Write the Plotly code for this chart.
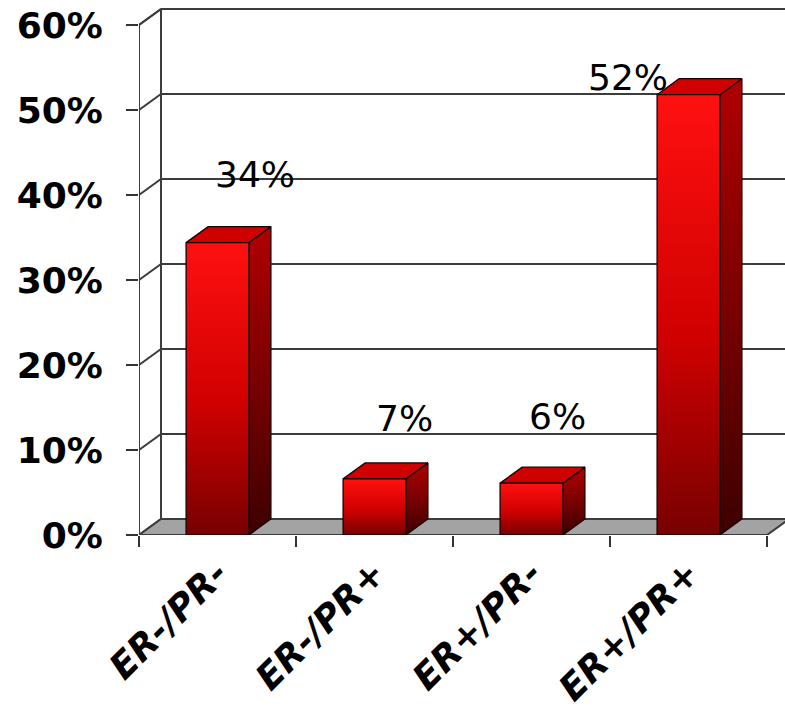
import plotly.graph_objects as go

# ---------------- data ----------------
categories = ["ER-/PR-", "ER-/PR+", "ER+/PR-", "ER+/PR+"]
values = [34.4, 6.6, 6.1, 51.8]          # percent
data_labels = ["34%", "7%", "6%", "52%"]
y_ticks = [0, 10, 20, 30, 40, 50, 60]
y_tick_labels = ["0%", "10%", "20%", "30%", "40%", "50%", "60%"]

# ---------------- style / geometry ----------------
W, H = 785, 708
M_L, M_R, M_T, M_B = 139, 0, 0, 173
PX_X = 157.0            # pixels per category
PX_Y = 8.5              # pixels per percent
DX = 22 / PX_X          # depth offset (x, in category units)
DY = 16 / PX_Y          # depth offset (y, in percent units)
HALF = 0.2              # half bar width in category units
X_MIN = -0.5
X_MAX = X_MIN + (W - M_L - M_R) / PX_X
Y_MAX = (H - M_B - M_T) / PX_Y
N = len(categories)
X_END = N - 0.5

GRID = "#3c3c3c"
EDGE = "#1a0000"
label_shift_px = [(37, 68), (30, 60), (26, 67), (-61, 17)]

fig = go.Figure()


def poly(xs, ys, fillcolor=None, line_color=GRID, line_width=2, gradient=None):
    kw = dict(x=xs + [xs[0]], y=ys + [ys[0]], mode="lines",
              line=dict(color=line_color, width=line_width),
              hoverinfo="skip", showlegend=False, cliponaxis=False)
    if fillcolor is not None or gradient is not None:
        kw["fill"] = "toself"
        if fillcolor is not None:
            kw["fillcolor"] = fillcolor
        if gradient is not None:
            kw["fillgradient"] = gradient
    fig.add_trace(go.Scatter(**kw))


def seg(xs, ys, color=GRID, width=2):
    fig.add_trace(go.Scatter(x=xs, y=ys, mode="lines",
                             line=dict(color=color, width=width),
                             hoverinfo="skip", showlegend=False, cliponaxis=False))


top = y_ticks[-1]
# left wall (white) and back wall
poly([X_MIN, X_MIN + DX, X_MIN + DX, X_MIN], [0, DY, top + DY, top], fillcolor="white")
# back-wall gridlines
for t in y_ticks[1:]:
    seg([X_MIN + DX, X_MAX], [t + DY, t + DY])
    seg([X_MIN, X_MIN + DX], [t, t + DY])
# floor
poly([X_MIN, X_END, X_END + DX, X_MIN + DX], [0, 0, DY, DY], fillcolor="#a3a3a3")
# back-wall left edge and front axis line
seg([X_MIN + DX, X_MIN + DX], [DY, top + DY])
seg([X_MIN, X_MIN], [0, top])

# bars
for i, v in enumerate(values):
    x0, x1 = i - HALF, i + HALF
    # side face
    poly([x1, x1 + DX, x1 + DX, x1], [0, DY, v + DY, v], line_color=EDGE, line_width=1.3,
         gradient=dict(type="vertical", start=0, stop=v + DY,
                       colorscale=[[0, "#3d0000"], [0.5, "#7a0000"], [1, "#b00000"]]))
    # top face
    poly([x0, x1, x1 + DX, x0 + DX], [v, v, v + DY, v + DY], fillcolor="#cf0000",
         line_color=EDGE, line_width=1.3)
    # front face
    poly([x0, x1, x1, x0], [0, 0, v, v], line_color=EDGE, line_width=1.3,
         gradient=dict(type="vertical", start=0, stop=v,
                       colorscale=[[0, "#780000"], [0.45, "#d00000"], [1, "#ff1010"]]))
    sx, sy = label_shift_px[i]
    fig.add_annotation(x=i, y=v, xref="x", yref="y", text=data_labels[i], showarrow=False,
                       xshift=sx, yshift=sy, xanchor="center", yanchor="middle",
                       font=dict(family="DejaVu Sans", size=36, color="black"))

fig.update_layout(
    width=W, height=H,
    margin=dict(l=M_L, r=M_R, t=M_T, b=M_B),
    paper_bgcolor="white", plot_bgcolor="white",
    showlegend=False,
    xaxis=dict(range=[X_MIN, X_MAX], tickmode="array", tickvals=list(range(N)),
               ticktext=categories, tickangle=-45, ticks="", showgrid=False,
               zeroline=False, showline=False, fixedrange=True,
               tickfont=dict(family="DejaVu Sans", size=36, color="black",
                             weight="bold", style="italic"),
               ticklabelstandoff=9,
               minor=dict(ticks="outside", tickmode="linear", tick0=-0.5, dtick=1,
                          ticklen=11, tickwidth=1.5, tickcolor="#333333", showgrid=False)),
    yaxis=dict(range=[0, Y_MAX], tickmode="array", tickvals=y_ticks, ticktext=y_tick_labels,
               ticks="outside", ticklen=12, tickwidth=1.5, tickcolor="#333333",
               showgrid=False, zeroline=False, showline=False, fixedrange=True,
               ticklabelstandoff=16,
               tickfont=dict(family="DejaVu Sans", size=36, color="black", weight="bold")),
)

fig.write_html("out.html", config={"displayModeBar": False},
               post_script="document.body.style.margin='0';")
